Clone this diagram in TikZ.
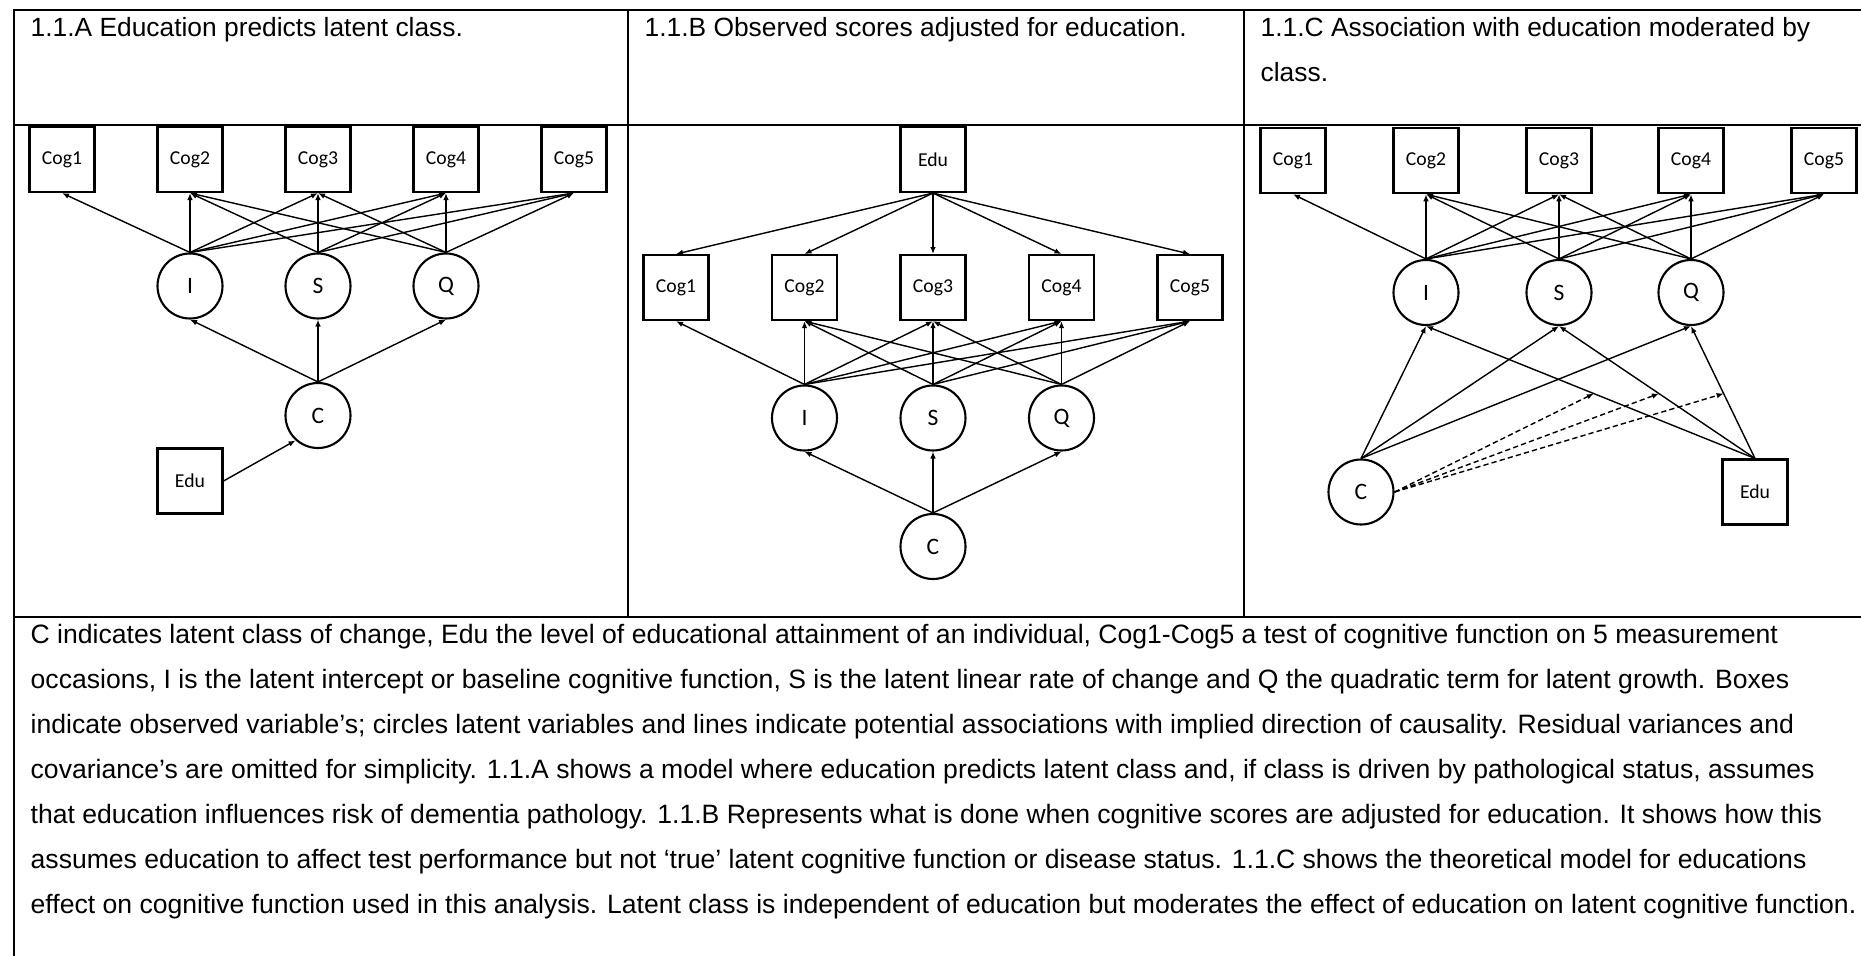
\documentclass[tikz,border=0pt]{standalone}
\usepackage{fontspec}
\setmainfont{Liberation Sans}
\newfontfamily\carlito{Carlito}
\usepackage{tikz}
\usetikzlibrary{positioning,arrows.meta}
\tikzset{
  obs/.style={rectangle, draw=black, fill=white, line width=0.6pt, minimum size=0.65cm, inner sep=0pt, font=\carlito\fontsize{5.6}{6}\selectfont},
  lat/.style={circle, draw=black, fill=white, line width=0.6pt, minimum size=0.65cm, inner sep=0pt, font=\carlito\fontsize{6.7}{7}\selectfont},
  pth/.style={draw=black, line width=0.4pt, -{Latex[length=2pt,width=1.6pt]}},
  dpth/.style={pth, dash pattern=on 1.5pt off 0.9pt},
  frm/.style={draw=black, line width=0.6pt},
  hdr/.style={anchor=base west, inner sep=0pt, font=\fontsize{7.5}{12.83}\selectfont},
  note/.style={anchor=base west, inner sep=0pt, align=left, font=\fontsize{7.56}{12.83}\selectfont}
}

\begin{document}
\begin{tikzpicture}
  \useasboundingbox (0,0) rectangle (18.61,-9.55);
  \draw[frm] (0.14,-0.10) rectangle (18.66,-9.70);
  \draw[frm] (0.14,-1.25)--(18.66,-1.25); \draw[frm] (0.14,-6.17)--(18.66,-6.17);
  \draw[frm] (6.28,-0.10)--(6.28,-6.17); \draw[frm] (12.44,-0.10)--(12.44,-6.17);

  \node[hdr] (hA) at (0.30,-0.36) {1.1.A Education predicts latent class.};
  \node[hdr] (hB) at (6.44,-0.36) {1.1.B Observed scores adjusted for education.};
  \node[hdr] (hC) at (12.60,-0.36) {1.1.C Association with education moderated by};
  \node[hdr] (hCb) at (12.60,-0.81) {class.};

  \node[obs] (aCog1) at (0.62,-1.595) {Cog1};
  \node[obs] (aCog2) at (1.90,-1.595) {Cog2};
  \node[obs] (aCog3) at (3.18,-1.595) {Cog3};
  \node[obs] (aCog4) at (4.46,-1.595) {Cog4};
  \node[obs] (aCog5) at (5.74,-1.595) {Cog5};
  \node[lat] (aI) at (1.90,-2.86) {I};
  \node[lat] (aS) at (3.18,-2.86) {S};
  \node[lat] (aQ) at (4.46,-2.86) {Q};
  \node[lat] (aC) at (3.18,-4.155) {C};
  \node[obs] (aEdu) at (1.90,-4.81) {Edu};
  \draw[pth] (aI.north)--(aCog1.south); \draw[pth] (aI.north)--(aCog2.south);
  \draw[pth] (aI.north)--(aCog3.south); \draw[pth] (aI.north)--(aCog4.south);
  \draw[pth] (aI.north)--(aCog5.south);
  \draw[pth] (aS.north)--(aCog2.south); \draw[pth] (aS.north)--(aCog3.south);
  \draw[pth] (aS.north)--(aCog4.south); \draw[pth] (aS.north)--(aCog5.south);
  \draw[pth] (aQ.north)--(aCog2.south); \draw[pth] (aQ.north)--(aCog3.south);
  \draw[pth] (aQ.north)--(aCog4.south); \draw[pth] (aQ.north)--(aCog5.south);
  \draw[pth] (aC.north)--(aI.south); \draw[pth] (aC.north)--(aS.south);
  \draw[pth] (aC.north)--(aQ.south);
  \draw[pth] (aEdu.east)--(aC.228);

  \node[obs] (bEdu) at (9.33,-1.595) {Edu};
  \node[obs] (bCog1) at (6.76,-2.876) {Cog1};
  \node[obs] (bCog2) at (8.045,-2.876) {Cog2};
  \node[obs] (bCog3) at (9.33,-2.876) {Cog3};
  \node[obs] (bCog4) at (10.615,-2.876) {Cog4};
  \node[obs] (bCog5) at (11.90,-2.876) {Cog5};
  \node[lat] (bI) at (8.045,-4.18) {I};
  \node[lat] (bS) at (9.33,-4.18) {S};
  \node[lat] (bQ) at (10.615,-4.18) {Q};
  \node[lat] (bC) at (9.33,-5.465) {C};
  \draw[pth] (bEdu.south)--(bCog1.north); \draw[pth] (bEdu.south)--(bCog2.north);
  \draw[pth] (bEdu.south)--(bCog3.north); \draw[pth] (bEdu.south)--(bCog4.north);
  \draw[pth] (bEdu.south)--(bCog5.north);
  \draw[pth] (bI.north)--(bCog1.south); \draw[pth] (bI.north)--(bCog2.south);
  \draw[pth] (bI.north)--(bCog3.south); \draw[pth] (bI.north)--(bCog4.south);
  \draw[pth] (bI.north)--(bCog5.south);
  \draw[pth] (bS.north)--(bCog2.south); \draw[pth] (bS.north)--(bCog3.south);
  \draw[pth] (bS.north)--(bCog4.south); \draw[pth] (bS.north)--(bCog5.south);
  \draw[pth] (bQ.north)--(bCog2.south); \draw[pth] (bQ.north)--(bCog3.south);
  \draw[pth] (bQ.north)--(bCog4.south); \draw[pth] (bQ.north)--(bCog5.south);
  \draw[pth] (bC.north)--(bI.south); \draw[pth] (bC.north)--(bS.south);
  \draw[pth] (bC.north)--(bQ.south);

  \node[obs] (cCog1) at (12.93,-1.607) {Cog1};
  \node[obs] (cCog2) at (14.26,-1.607) {Cog2};
  \node[obs] (cCog3) at (15.59,-1.607) {Cog3};
  \node[obs] (cCog4) at (16.91,-1.607) {Cog4};
  \node[obs] (cCog5) at (18.24,-1.607) {Cog5};
  \node[lat] (cI) at (14.26,-2.925) {I};
  \node[lat] (cS) at (15.59,-2.925) {S};
  \node[lat] (cQ) at (16.91,-2.925) {Q};
  \node[lat] (cC) at (13.61,-4.92) {C};
  \node[obs] (cEdu) at (17.55,-4.92) {Edu};
  \draw[pth] (cI.north)--(cCog1.south); \draw[pth] (cI.north)--(cCog2.south);
  \draw[pth] (cI.north)--(cCog3.south); \draw[pth] (cI.north)--(cCog4.south);
  \draw[pth] (cI.north)--(cCog5.south);
  \draw[pth] (cS.north)--(cCog2.south); \draw[pth] (cS.north)--(cCog3.south);
  \draw[pth] (cS.north)--(cCog4.south); \draw[pth] (cS.north)--(cCog5.south);
  \draw[pth] (cQ.north)--(cCog2.south); \draw[pth] (cQ.north)--(cCog3.south);
  \draw[pth] (cQ.north)--(cCog4.south); \draw[pth] (cQ.north)--(cCog5.south);
  \draw[pth] (cC.north)--(cI.south); \draw[pth] (cC.north)--(cS.south);
  \draw[pth] (cC.north)--(cQ.south);
  \draw[pth] (cEdu.north)-- coordinate[pos=0.49] (mI) (cI.south);
  \draw[pth] (cEdu.north)-- coordinate[pos=0.49] (mS) (cS.south);
  \draw[pth] (cEdu.north)-- coordinate[pos=0.49] (mQ) (cQ.south);
  \draw[dpth] (cC.east)--(mI); \draw[dpth] (cC.east)--(mS);
  \draw[dpth] (cC.east)--(mQ);

  \node[note] (capt) at (0.30,-9.136) {C indicates latent class of change, Edu the level of educational attainment of an individual, Cog1-Cog5 a test of cognitive function on 5 measurement\\
occasions, I is the latent intercept or baseline cognitive function, S is the latent linear rate of change and Q the quadratic term for latent growth. Boxes\\
indicate observed variable’s; circles latent variables and lines indicate potential associations with implied direction of causality. Residual variances and\\
covariance’s are omitted for simplicity. 1.1.A shows a model where education predicts latent class and, if class is driven by pathological status, assumes\\
that education influences risk of dementia pathology. 1.1.B Represents what is done when cognitive scores are adjusted for education. It shows how this\\
assumes education to affect test performance but not ‘true’ latent cognitive function or disease status. 1.1.C shows the theoretical model for educations\\
effect on cognitive function used in this analysis. Latent class is independent of education but moderates the effect of education on latent cognitive function.};
\end{tikzpicture}
\end{document}
